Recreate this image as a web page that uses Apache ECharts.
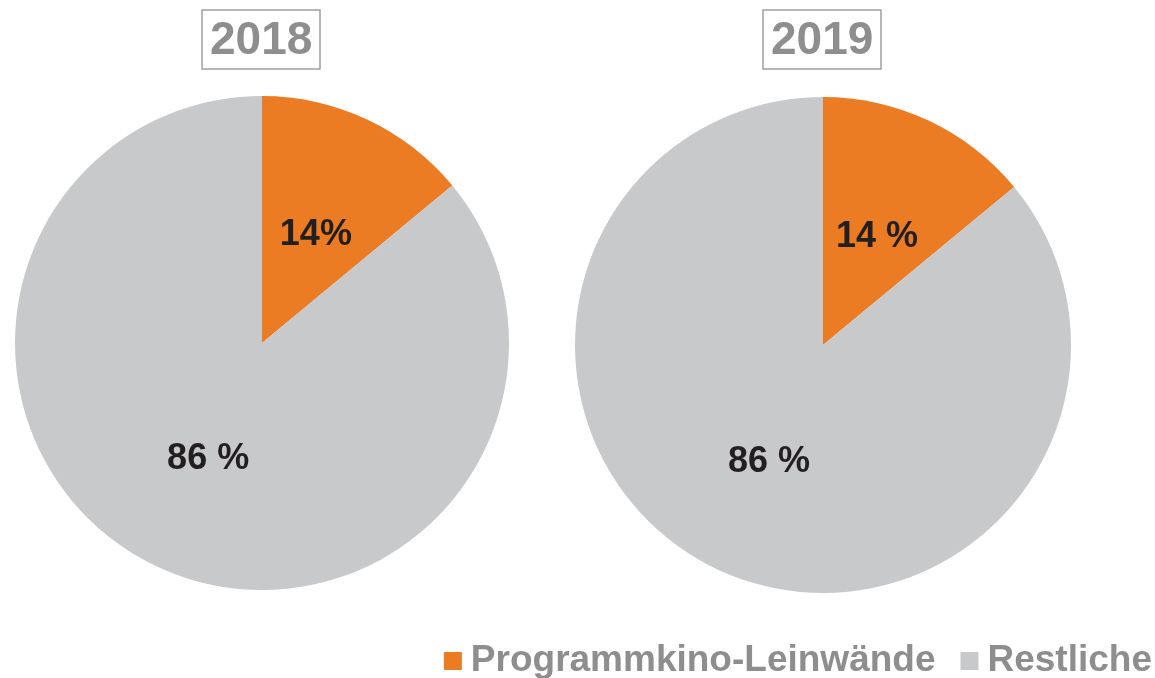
<!DOCTYPE html>
<html>
<head>
<meta charset="utf-8">
<script src="https://cdn.jsdelivr.net/npm/echarts@6/dist/echarts.min.js"></script>
<style>
  html, body { margin: 0; padding: 0; background: #fff; }
  #chart { width: 1155px; height: 678px; }
</style>
</head>
<body>
<div id="chart"></div>
<script>
// Daten
const categories = ['Programmkino-Leinwände', 'Restliche'];
const years = ['2018', '2019'];
const shares2018 = [14, 86];
const shares2019 = [14, 86];
const labels2018 = ['14%', '86 %'];
const labels2019 = ['14 %', '86 %'];

const colors = ['#ec7c24', '#c8c9cb'];
const font = "'Liberation Sans', Arial, sans-serif";
// kleine Verschiebung der Beschriftungen wie im Original
const labelShift = [[0, 7], [0, 2]];

let chart = echarts.init(document.getElementById('chart'));

function makeData(values) {
  return categories.map((name, i) => ({
    name: name,
    value: values[i],
    label: { offset: labelShift[i] }
  }));
}

function makeTitle(text, left) {
  return {
    text: text,
    left: left,
    top: 10,
    padding: [8, 8, 5, 8],
    borderColor: '#a0a0a0',
    borderWidth: 1.5,
    textStyle: {
      color: '#8e8e8e',
      fontSize: 46,
      fontWeight: 'bold',
      fontFamily: font,
      lineHeight: 46
    }
  };
}

function makePie(values, labels, center, radius) {
  return {
    type: 'pie',
    center: center,
    radius: radius,
    startAngle: 90,
    clockwise: true,
    silent: true,
    data: makeData(values),
    label: {
      show: true,
      position: 'inside',
      formatter: (p) => labels[p.dataIndex],
      color: '#231f20',
      fontSize: 36,
      fontWeight: 'bold',
      fontFamily: font
    },
    labelLine: { show: false },
    itemStyle: { borderWidth: 0 },
    emphasis: { disabled: true }
  };
}

let option = {
  animation: false,
  color: colors,
  title: [
    makeTitle(years[0], 202),
    makeTitle(years[1], 763)
  ],
  legend: {
    data: categories,
    right: 3,
    top: 641,
    padding: 0,
    icon: 'rect',
    itemWidth: 18,
    itemHeight: 18,
    itemGap: 25,
    selectedMode: false,
    textStyle: {
      color: '#8e8e8e',
      fontSize: 37,
      fontWeight: 'bold',
      fontFamily: font,
      lineHeight: 40,
      padding: [0, 0, 0, 4]
    }
  },
  series: [
    makePie(shares2018, labels2018, [262, 343], 247),
    makePie(shares2019, labels2019, [823, 345], 248)
  ]
};

chart.setOption(option);
</script>
</body>
</html>
